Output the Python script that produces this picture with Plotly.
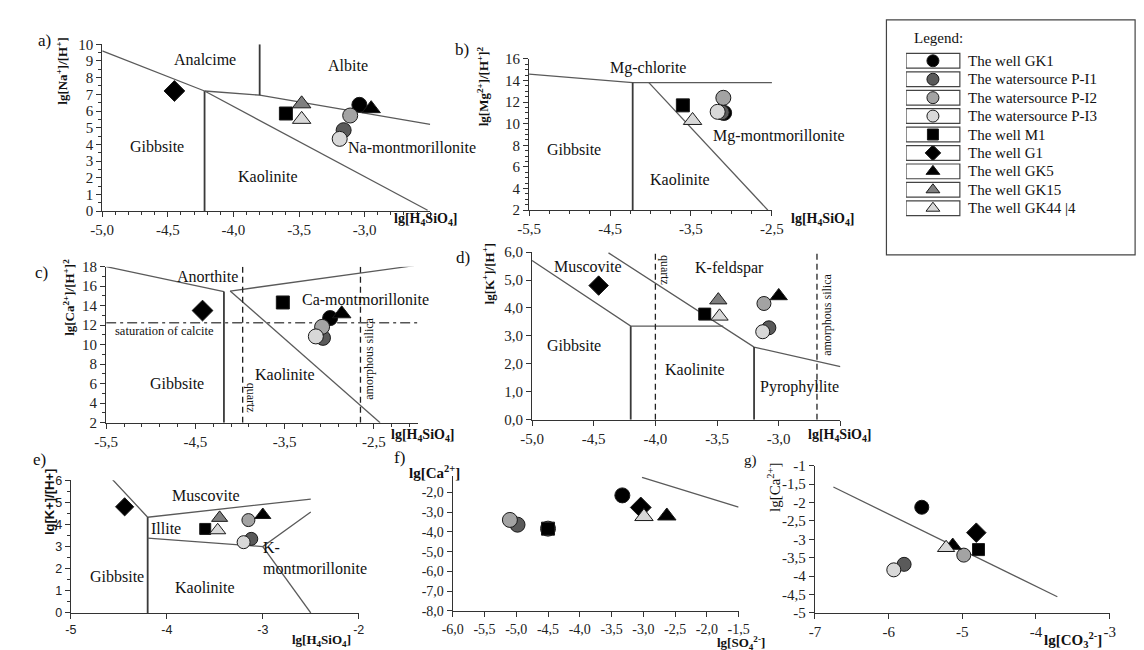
import plotly.graph_objects as go

W, H = 1144, 650
SERIF = "Liberation Serif"
SANS = "Liberation Sans"

# ---------------- data ----------------
WELLS = ["The well GK1", "The watersource P-I1", "The watersource P-I2",
         "The watersource P-I3", "The well M1", "The well G1",
         "The well GK5", "The well GK15", "The well GK44 |4"]
SYMBOLS = ["circle", "circle", "circle", "circle", "square", "diamond",
           "triangle-up", "triangle-up", "triangle-up"]
COLORS = ["#000000", "#5a5a5a", "#a3a3a3", "#d8d8d8", "#000000", "#000000",
          "#000000", "#7f7f7f", "#d8d8d8"]

# panel a) lg[Na+]/[H+] vs lg[H4SiO4]
A_X = [-3.04, -3.16, -3.11, -3.19, -3.60, -4.45, -2.95, -3.48, -3.48]
A_Y = [6.37, 4.85, 5.73, 4.33, 5.85, 7.20, 6.14, 6.43, 5.50]
# panel b) lg[Mg2+]/[H+]^2
B_X = [-3.09, -3.12, -3.10, -3.17, -3.60, None, None, None, -3.48]
B_Y = [11.0, 11.05, 12.4, 11.1, 11.7, None, None, None, 10.3]
# panel c) lg[Ca2+]/[H+]^2
C_X = [-2.99, -3.07, -3.08, -3.15, -3.52, -4.42, -2.86, None, None]
C_Y = [12.73, 10.7, 11.83, 10.85, 14.33, 13.5, 13.17, None, None]
# panel d) lg[K+]/[H+]
D_X = [None, -3.08, -3.12, -3.13, -3.60, -4.46, -3.00, -3.49, -3.48]
D_Y = [None, 3.29, 4.16, 3.15, 3.78, 4.80, 4.43, 4.28, 3.70]
# panel e) lg[K+]/[H+]
E_X = [None, -3.12, -3.15, -3.20, -3.60, -4.44, -3.00, -3.45, -3.47]
E_Y = [None, 3.35, 4.20, 3.20, 3.80, 4.80, 4.43, 4.30, 3.74]
# panel f) lg[Ca2+] vs lg[SO4 2-]
F_X = [-3.33, -4.98, -5.10, -4.50, -4.50, -3.04, -2.63, None, -2.99]
F_Y = [-2.16, -3.64, -3.40, -3.84, -3.84, -2.77, -3.20, None, -3.23]
# panel g) lg[Ca2+] vs lg[CO3 2-]
G_X = [-5.55, -5.79, -4.98, -5.93, -4.78, -4.81, -5.13, None, -5.22]
G_Y = [-2.13, -3.68, -3.43, -3.83, -3.28, -2.82, -3.17, None, -3.23]

# stability-field boundaries: (xs, ys, style)
A_LINES = [([-5.0, -4.22], [9.6, 7.2], "thin"),
           ([-4.22, -4.22], [0, 7.2], "dark"),
           ([-4.22, -3.8, -2.5], [7.2, 6.95, 5.2], "thin"),
           ([-3.8, -3.8], [6.95, 10], "dark"),
           ([-4.22, -2.52], [7.2, 0.05], "thin")]
B_LINES = [([-5.5, -4.22, -2.5], [14.6, 13.8, 13.8], "thin"),
           ([-4.22, -4.22], [2, 13.8], "dark"),
           ([-4.02, -2.55], [13.8, 2], "thin")]
C_LINES = [([-5.5, -4.18], [18, 15.45], "thin"),
           ([-4.18, -4.18], [2, 15.45], "dark"),
           ([-4.11, -2.43], [15.5, 2], "thin"),
           ([-4.11, -2.05], [15.5, 18.1], "thin"),
           ([-3.97, -3.97], [2, 18], "dash"),
           ([-2.65, -2.65], [2, 18], "dash"),
           ([-5.5, -2.0], [12.25, 12.25], "dashdot")]
D_LINES = [([-5.0, -4.2, -3.45], [5.7, 3.35, 3.35], "thin"),
           ([-4.2, -4.2], [0, 3.35], "dark"),
           ([-4.38, -3.2, -2.5], [5.97, 2.6, 1.9], "thin"),
           ([-3.2, -3.2], [0, 2.6], "dark"),
           ([-4.0, -4.0], [0, 6.0], "dash"),
           ([-2.69, -2.69], [0, 6.0], "dash")]
E_LINES = [([-4.57, -4.2, -2.5], [6.05, 4.33, 5.15], "thin"),
           ([-4.2, -4.2], [0, 4.33], "dark"),
           ([-4.2, -3.0, -2.5], [3.38, 3.0, 4.57], "thin"),
           ([-3.0, -2.5], [3.0, 0], "thin")]
F_LINES = [([-3.02, -1.5], [-1.25, -2.75], "thin")]
G_LINES = [([-6.75, -3.71], [-1.58, -4.56], "thin")]

# tick labels
A_XT = ([-5.0, -4.5, -4.0, -3.5, -3.0, -2.5], ["-5,0", "-4,5", "-4,0", "-3,5", "-3,0", ""])
A_YT = (list(range(0, 11)), [str(v) for v in range(0, 11)])
B_XT = ([-5.5, -4.5, -3.5, -2.5], ["-5,5", "-4,5", "-3,5", "-2,5"])
B_YT = (list(range(2, 17, 2)), [str(v) for v in range(2, 17, 2)])
C_XT = ([-5.5, -4.5, -3.5, -2.5], ["-5,5", "-4,5", "-3,5", "-2,5"])
C_YT = (list(range(2, 19, 2)), [str(v) for v in range(2, 19, 2)])
D_XT = ([-5.0, -4.5, -4.0, -3.5, -3.0, -2.5], ["-5,0", "-4,5", "-4,0", "-3,5", "-3,0", ""])
D_YT = ([0, 1, 2, 3, 4, 5, 6], ["0,0", "1,0", "2,0", "3,0", "4,0", "5,0", "6,0"])
E_XT = ([-5, -4, -3, -2], ["-5", "-4", "-3", "-2"])
E_YT = (list(range(0, 7)), [str(v) for v in range(0, 7)])
F_XT = ([-6.0, -5.5, -5.0, -4.5, -4.0, -3.5, -3.0, -2.5, -2.0, -1.5],
        ["-6,0", "-5,5", "-5,0", "-4,5", "-4,0", "-3,5", "-3,0", "-2,5", "-2,0", "-1,5"])
F_YT = ([-2, -3, -4, -5, -6, -7, -8], ["-2,0", "-3,0", "-4,0", "-5,0", "-6,0", "-7,0", "-8,0"])
G_XT = ([-7, -6, -5, -4, -3], ["-7", "-6", "-5", "-4", "-3"])
G_YT = ([-1, -1.5, -2, -2.5, -3, -3.5, -4, -4.5, -5],
        ["-1", "-1,5", "-2", "-2,5", "-3", "-3,5", "-4", "-4,5", "-5"])

# ---------------- layout helpers ----------------
def xdom(p0, p1):
    return [p0 / W, p1 / W]

def ydom(top, bottom):
    return [1 - bottom / H, 1 - top / H]

def px(x):
    return x / W

def py(y):
    return 1 - y / H

fig = go.Figure()
layout = dict(width=W, height=H, margin=dict(l=0, r=0, t=0, b=0),
              paper_bgcolor="white", plot_bgcolor="white", showlegend=False)
annotations = []
shapes = []

LINE_STYLE = {"thin": dict(color="#5a5a5a", width=1.3),
              "dark": dict(color="#3a3a3a", width=1.8),
              "dash": dict(color="#222222", width=1.3, dash="6px,4px"),
              "dashdot": dict(color="#555555", width=1.3, dash="10px,4px,3px,4px")}


def add_panel(idx, xs, ys, lines, xpx, ypx, xr, yr, xt, yt, msize,
              font=SERIF, fsize=15, xminor=None, yminor=None):
    xa = "xaxis" if idx == 1 else f"xaxis{idx}"
    ya = "yaxis" if idx == 1 else f"yaxis{idx}"
    xref = "x" if idx == 1 else f"x{idx}"
    yref = "y" if idx == 1 else f"y{idx}"
    common = dict(showline=True, linecolor="#333333", linewidth=1.2, ticks="outside",
                  ticklen=5, tickcolor="#333333", showgrid=False, zeroline=False,
                  tickfont=dict(family=font, size=fsize, color="#222222"),
                  tickmode="array", fixedrange=True)
    xaxis = dict(common, domain=xdom(*xpx), range=xr, anchor=yref,
                 tickvals=xt[0], ticktext=xt[1])
    yaxis = dict(common, domain=ydom(*ypx), range=yr, anchor=xref,
                 tickvals=yt[0], ticktext=yt[1])
    if xminor:
        xaxis["minor"] = dict(tickmode="linear", tick0=xr[0], dtick=xminor, ticklen=3,
                              ticks="outside", tickcolor="#333333")
    if yminor:
        yaxis["minor"] = dict(tickmode="linear", tick0=yr[0], dtick=yminor, ticklen=3,
                              ticks="outside", tickcolor="#333333")
    layout[xa] = xaxis
    layout[ya] = yaxis
    for lx, ly, st in lines:
        fig.add_trace(go.Scatter(x=lx, y=ly, mode="lines", line=LINE_STYLE[st],
                                 xaxis=xref, yaxis=yref, hoverinfo="skip"))
    for i, name in enumerate(WELLS):
        if xs[i] is None:
            continue
        s = msize
        if SYMBOLS[i] == "square":
            s = msize - 2
        elif SYMBOLS[i] in ("diamond", "triangle-up"):
            s = msize + 1
        fig.add_trace(go.Scatter(x=[xs[i]], y=[ys[i]], mode="markers", name=name,
                                 marker=dict(symbol=SYMBOLS[i], size=s, color=COLORS[i],
                                             line=dict(color="#1a1a1a", width=1)),
                                 xaxis=xref, yaxis=yref))
    return xref, yref


def text(t, x, y, xref="paper", yref="paper", size=16, family=SERIF, angle=0,
         xanchor="center", yanchor="middle", align="center"):
    annotations.append(dict(text=t, x=x, y=y, xref=xref, yref=yref, showarrow=False,
                            font=dict(family=family, size=size, color="#111111"),
                            textangle=angle, xanchor=xanchor, yanchor=yanchor, align=align))


# ---------------- panels ----------------
# a)
xa_, ya_ = add_panel(1, A_X, A_Y, A_LINES, (84, 419), (29, 200), [-5.0, -2.5], [0, 10],
                     A_XT, A_YT, 15, xminor=0.1, yminor=0.5)
text("Analcime", -4.22, 9.06, xa_, ya_)
text("Albite", -3.13, 8.7, xa_, ya_)
text("Gibbsite", -4.58, 3.9, xa_, ya_)
text("Kaolinite", -3.74, 2.05, xa_, ya_)
text("Na-montmorillonite", -3.14, 3.8, xa_, ya_, xanchor="left")
text("a)", px(25), py(25), size=17)
text("<b>lg[Na<sup>+</sup>]/[H<sup>+</sup>]</b>", px(42), py(57), size=13, angle=-90)
text("<b>lg[H<sub>4</sub>SiO<sub>4</sub>]</b>", px(415), py(209), size=14)

# b)
xb_, yb_ = add_panel(2, B_X, B_Y, B_LINES, (520, 768), (44, 199), [-5.5, -2.5], [2, 16],
                     B_XT, B_YT, 15, xminor=0.25, yminor=0.5)
text("Mg-chlorite", -4.03, 15.2, xb_, yb_)
text("Gibbsite", -4.95, 7.6, xb_, yb_)
text("Kaolinite", -3.64, 4.8, xb_, yb_)
text("Mg-montmorillonite", -3.25, 8.87, xb_, yb_, xanchor="left")
text("b)", px(451), py(34), size=17)
text("<b>lg[Mg<sup>2+</sup>]/[H<sup>+</sup>]<sup>2</sup></b>", px(473), py(72), size=13, angle=-90)
text("<b>lg[H<sub>4</sub>SiO<sub>4</sub>]</b>", px(820), py(209), size=14)

# c)
xc_, yc_ = add_panel(3, C_X, C_Y, C_LINES, (88, 407), (257, 417), [-5.5, -2.0], [2, 18],
                     C_XT, C_YT, 15, xminor=0.2, yminor=1)
text("Anorthite", -4.36, 17.0, xc_, yc_)
text("Ca-montmorillonite", -3.33, 14.6, xc_, yc_, xanchor="left")
text("saturation of calcite", -5.42, 11.4, xc_, yc_, size=12.5, xanchor="left")
text("Gibbsite", -4.71, 6.0, xc_, yc_)
text("Kaolinite", -3.5, 6.9, xc_, yc_)
text("quartz", -3.88, 4.6, xc_, yc_, size=12, angle=90)
text("amorphous silica", -2.55, 8.6, xc_, yc_, size=12, angle=-90)
text("c)", px(22), py(263), size=17)
text("<b>lg[Ca<sup>2+</sup>]/[H<sup>+</sup>]<sup>2</sup></b>", px(50), py(288), size=13, angle=-90)
text("<b>lg[H<sub>4</sub>SiO<sub>4</sub>]</b>", px(412), py(430), size=14)

# d)
xd_, yd_ = add_panel(4, D_X, D_Y, D_LINES, (523, 838), (242, 414), [-5.0, -2.5], [0, 6],
                     D_XT, D_YT, 14)
text("Muscovite", -4.55, 5.5, xd_, yd_)
text("K-feldspar", -3.4, 5.44, xd_, yd_)
text("Gibbsite", -4.66, 2.65, xd_, yd_)
text("Kaolinite", -3.68, 1.8, xd_, yd_)
text("Pyrophyllite", -2.83, 1.16, xd_, yd_)
text("quartz", -3.92, 5.35, xd_, yd_, size=12, angle=90)
text("amorphous silica", -2.61, 3.75, xd_, yd_, size=12, angle=-90)
text("d)", px(452), py(248), size=17)
text("<b>lg[K<sup>+</sup>]/[H<sup>+</sup>]</b>", px(478), py(264), size=13, angle=-90)
text("<b>lg[H<sub>4</sub>SiO<sub>4</sub>]</b>", px(838), py(430), size=14)

# e)
xe_, ye_ = add_panel(5, E_X, E_Y, E_LINES, (52, 346), (476, 612), [-5, -2], [0, 6],
                     E_XT, E_YT, 13, font=SANS, fsize=12.5, yminor=0.5)
text("Muscovite", -3.59, 5.3, xe_, ye_)
text("Illite", -4.01, 3.84, xe_, ye_)
text("Gibbsite", -4.52, 1.64, xe_, ye_)
text("Kaolinite", -3.6, 1.13, xe_, ye_)
text("K-<br>montmorillonite", -3.02, 2.5, xe_, ye_, xanchor="left", align="left")
text("e)", px(20), py(455), size=17)
text("<b>lg[K+]/[H+]</b>", px(30), py(498), size=13, family=SANS, angle=-90)
text("<b>lg[H<sub>4</sub>SiO<sub>4</sub>]</b>", px(308), py(640), size=13)

# f)
xf_, yf_ = add_panel(6, F_X, F_Y, F_LINES, (442, 734), (472, 610), [-6.0, -1.5], [-8, -1.2],
                     F_XT, F_YT, 15, fsize=14)
text("f)", px(388), py(453), size=17)
text("<b>lg[Ca<sup>2+</sup>]</b>", px(423), py(468), size=15)
text("<b>lg[SO<sub>4</sub><sup>2-</sup>]</b>", px(736), py(643), size=13)

# g)
xg_, yg_ = add_panel(7, G_X, G_Y, G_LINES, (812, 1113), (461, 612), [-7, -3], [-5, -1],
                     G_XT, G_YT, 14)
text("g)", px(746), py(456), size=15)
text("lg[Ca<sup>2+</sup>]", px(770), py(483), size=15, angle=-90)
text("<b>lg[CO<sub>3</sub><sup>2-</sup>]</b>", px(1076), py(640), size=15)

# ---------------- legend (own hidden axes) ----------------
# x axis: 0..1 spans the small marker box (905..960 px); text sits further right
LEG_X0, LEG_BOX1, LEG_X1 = 905, 960, 1135
layout["xaxis8"] = dict(domain=xdom(LEG_X0, LEG_X1),
                        range=[0, (LEG_X1 - LEG_X0) / (LEG_BOX1 - LEG_X0)],
                        visible=False, anchor="y8", fixedrange=True)
layout["yaxis8"] = dict(domain=ydom(36.5, 206.5), range=[8.5, -0.5], visible=False,
                        anchor="x8", fixedrange=True)
shapes.append(dict(type="rect", xref="paper", yref="paper", x0=px(885), x1=px(1139),
                   y0=py(245), y1=py(4), line=dict(color="#444444", width=1.2)))
text("Legend:", px(911), py(23), size=15, xanchor="left")
for i, name in enumerate(WELLS):
    shapes.append(dict(type="rect", xref="x8", yref="y8", x0=0, x1=1,
                       y0=i - 0.4, y1=i + 0.4, line=dict(color="#444444", width=1.2)))
    s = 12
    if SYMBOLS[i] == "square":
        s = 11
    fig.add_trace(go.Scatter(x=[0.5], y=[i], mode="markers",
                             marker=dict(symbol=SYMBOLS[i], size=s, color=COLORS[i],
                                         line=dict(color="#1a1a1a", width=1)),
                             xaxis="x8", yaxis="y8", hoverinfo="skip"))
    text(name, 1.11, i, "x8", "y8", size=15, xanchor="left")

layout["annotations"] = annotations
layout["shapes"] = shapes
fig.update_layout(**layout)
fig.write_html("out.html")
